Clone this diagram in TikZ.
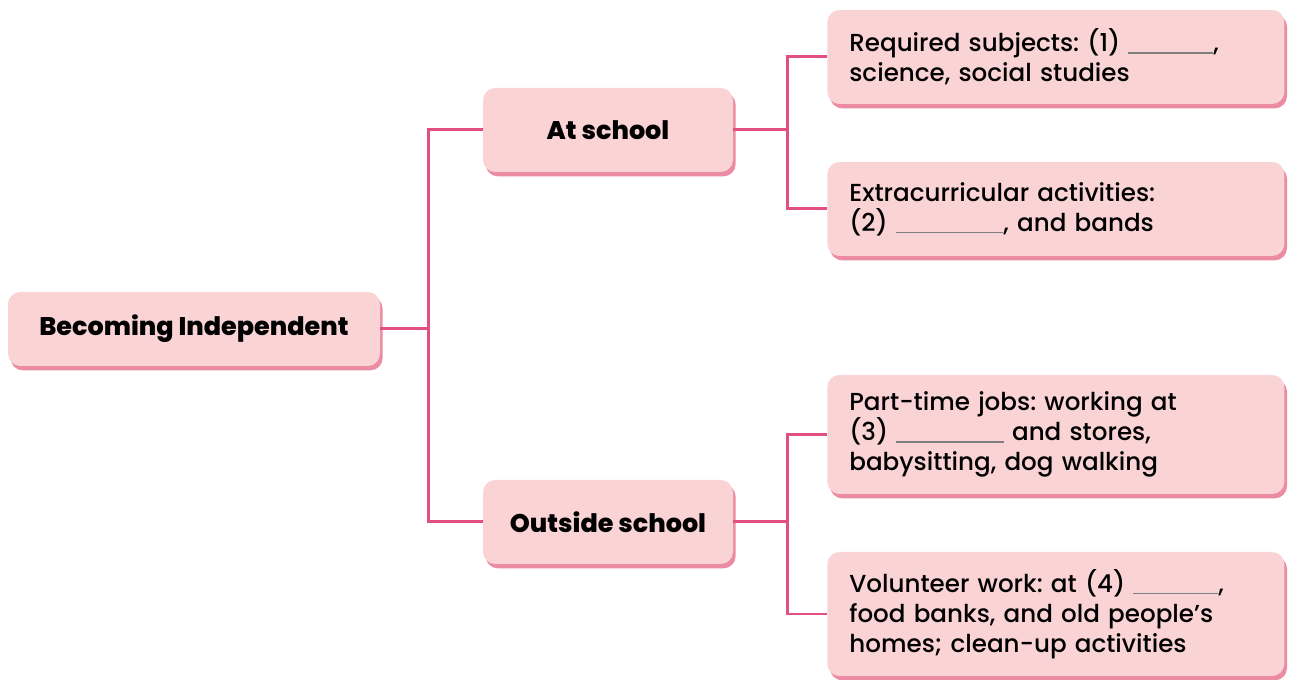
\documentclass[tikz,border=0pt]{standalone}
\usepackage{fontspec}
\setmainfont{Poppins}[UprightFont={Poppins Medium}, BoldFont={Poppins ExtraBold}]
\usetikzlibrary{shadows}

\definecolor{boxpink}{HTML}{FAD3D5}
\definecolor{edgepink}{HTML}{EC8CA2}
\definecolor{linkpink}{HTML}{E2507F}

% grey line left for the answer
\newcommand{\answerline}[1][1.7cm]{\textcolor{gray}{\rule[-0.15ex]{#1}{0.8pt}}}

\begin{document}
\frenchspacing
\begin{tikzpicture}[
    box/.style = {rectangle, rounded corners=7pt, fill=boxpink,
        drop shadow={shadow xshift=1.5pt, shadow yshift=-2.5pt, fill=edgepink, opacity=1}},
    head/.style = {box, font=\bfseries\fontsize{14.5}{17}\selectfont, align=center},
    leaf/.style = {box, anchor=west, font=\fontsize{14}{17}\selectfont, align=left,
        inner xsep=0.44cm, text width=8.26cm},
    link/.style = {draw=linkpink, line width=1.7pt}
]
    \useasboundingbox (0,0) rectangle (25.8,13.6);

    % main topic and the two settings
    \node [head, minimum width=7.44cm, minimum height=1.48cm] (root) at (3.88,7.02) {Becoming Independent};
    \node [head, minimum width=5cm, minimum height=1.68cm] (at) at (12.16,11.0) {At school};
    \node [head, minimum width=5cm, minimum height=1.68cm] (out) at (12.16,3.16) {Outside school};

    % details
    \node [leaf, minimum height=1.88cm] (req) at (16.54,12.46)
        {Required subjects: (1) \answerline,\\ science, social studies};
    \node [leaf, minimum height=1.88cm] (extra) at (16.54,9.42)
        {Extracurricular activities:\\ (2) \answerline[2.15cm], and bands};
    \node [leaf, minimum height=2.38cm] (jobs) at (16.54,4.91)
        {Part-time jobs: working at\\ (3) \answerline[2.15cm] and stores,\\ babysitting, dog walking};
    \node [leaf, minimum height=2.48cm] (vol) at (16.54,1.32)
        {Volunteer work: at (4) \answerline,\\ food banks, and old people's\\ homes; clean-up activities};

    % connectors
    \draw [link] (root.east) -- ++(0.96,0) coordinate (rootfork);
    \draw [link] (rootfork) |- (at.west);
    \draw [link] (rootfork) |- (out.west);
    \draw [link] (at.east) -- ++(1.08,0) coordinate (atfork);
    \draw [link] (atfork) |- (req.west);
    \draw [link] (atfork) |- (extra.west);
    \draw [link] (out.east) -- ++(1.08,0) coordinate (outfork);
    \draw [link] (outfork) |- (jobs.west);
    \draw [link] (outfork) |- (vol.west);
\end{tikzpicture}
\end{document}
